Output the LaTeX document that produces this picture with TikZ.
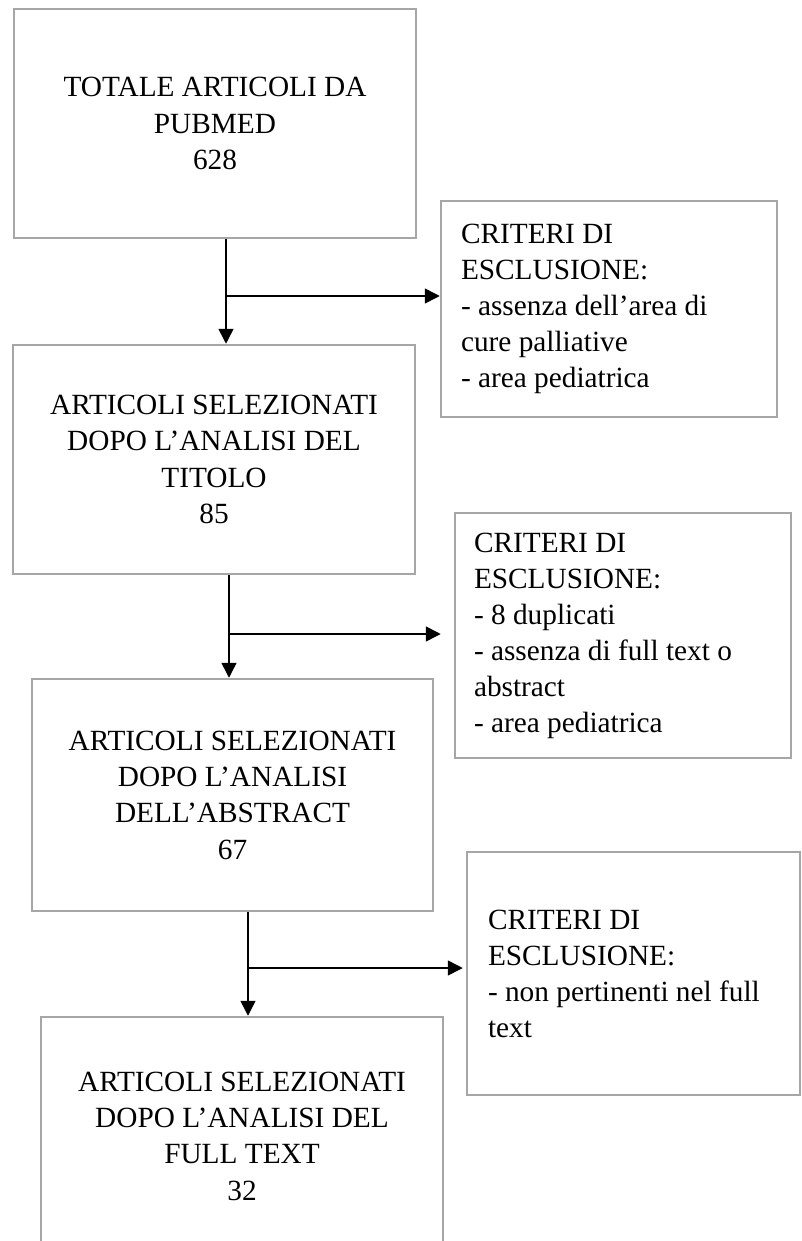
\documentclass[tikz,border=0pt]{standalone}
\usepackage{fontspec}
\setmainfont{Liberation Serif}
\usetikzlibrary{arrows.meta}
\definecolor{boxgray}{HTML}{A6A6A6}
\tikzset{
  x=1pt, y=1pt,
  flowbox/.style={draw=boxgray, line width=2.5pt, inner sep=0pt, align=center,
    font=\fontsize{29.3}{36.3}\selectfont},
  critbox/.style={draw=boxgray, line width=2.5pt, inner sep=0pt, align=flush left,
    font=\fontsize{29.3}{36}\selectfont},
  arr/.style={line width=1.5pt, -{Triangle[length=15pt,width=15pt]}}
}
\begin{document}
\begin{tikzpicture}
\useasboundingbox (0,0) rectangle (801,-1241);
\fill[white] (0,0) rectangle (801,-1241);

\node[flowbox, minimum width=402pt, minimum height=229pt] (b1) at (215,-123.5)
  {TOTALE ARTICOLI DA\\PUBMED\\628};
\node[critbox, minimum width=336pt, minimum height=216pt, text width=296pt] (c1) at (609,-309)
  {CRITERI DI\\ESCLUSIONE:\\- assenza dell’area di\\cure palliative\\- area pediatrica};
\node[flowbox, minimum width=402pt, minimum height=229pt] (b2) at (214,-459.5)
  {ARTICOLI SELEZIONATI\\DOPO L’ANALISI DEL\\TITOLO\\85};
\node[critbox, minimum width=336pt, minimum height=245pt, text width=298pt] (c2) at (623,-635.5)
  {CRITERI DI\\ESCLUSIONE:\\- 8 duplicati\\- assenza di full text o\\abstract\\- area pediatrica};
\node[flowbox, minimum width=401pt, minimum height=232pt] (b3) at (232.5,-795)
  {ARTICOLI SELEZIONATI\\DOPO L’ANALISI\\DELL’ABSTRACT\\67};
\node[critbox, minimum width=333pt, minimum height=243pt, text width=291pt] (c3) at (633.5,-973.5)
  {CRITERI DI\\ESCLUSIONE:\\- non pertinenti nel full\\text};
\node[flowbox, minimum width=402pt, minimum height=238pt] (b4) at (242,-1136)
  {ARTICOLI SELEZIONATI\\DOPO L’ANALISI DEL\\FULL TEXT\\32};

% connectors 1
\coordinate (j1) at ([xshift=11pt]b1.south |- 0,-296);
\draw[arr] ([xshift=11pt]b1.south) -- ([xshift=12pt]b2.north);
\draw[arr] (j1) -- (c1.west |- j1);
% connectors 2
\coordinate (j2) at ([xshift=15pt]b2.south |- 0,-634);
\draw[arr] ([xshift=15pt]b2.south) -- ([xshift=-3.5pt]b3.north);
\draw[arr] (j2) -- ([xshift=-13pt]c2.west |- j2);
% connectors 3
\coordinate (j3) at ([xshift=15.5pt]b3.south |- 0,-968);
\draw[arr] ([xshift=15.5pt]b3.south) -- ([xshift=6pt]b4.north);
\draw[arr] (j3) -- ([xshift=-3pt]c3.west |- j3);
\end{tikzpicture}
\end{document}
